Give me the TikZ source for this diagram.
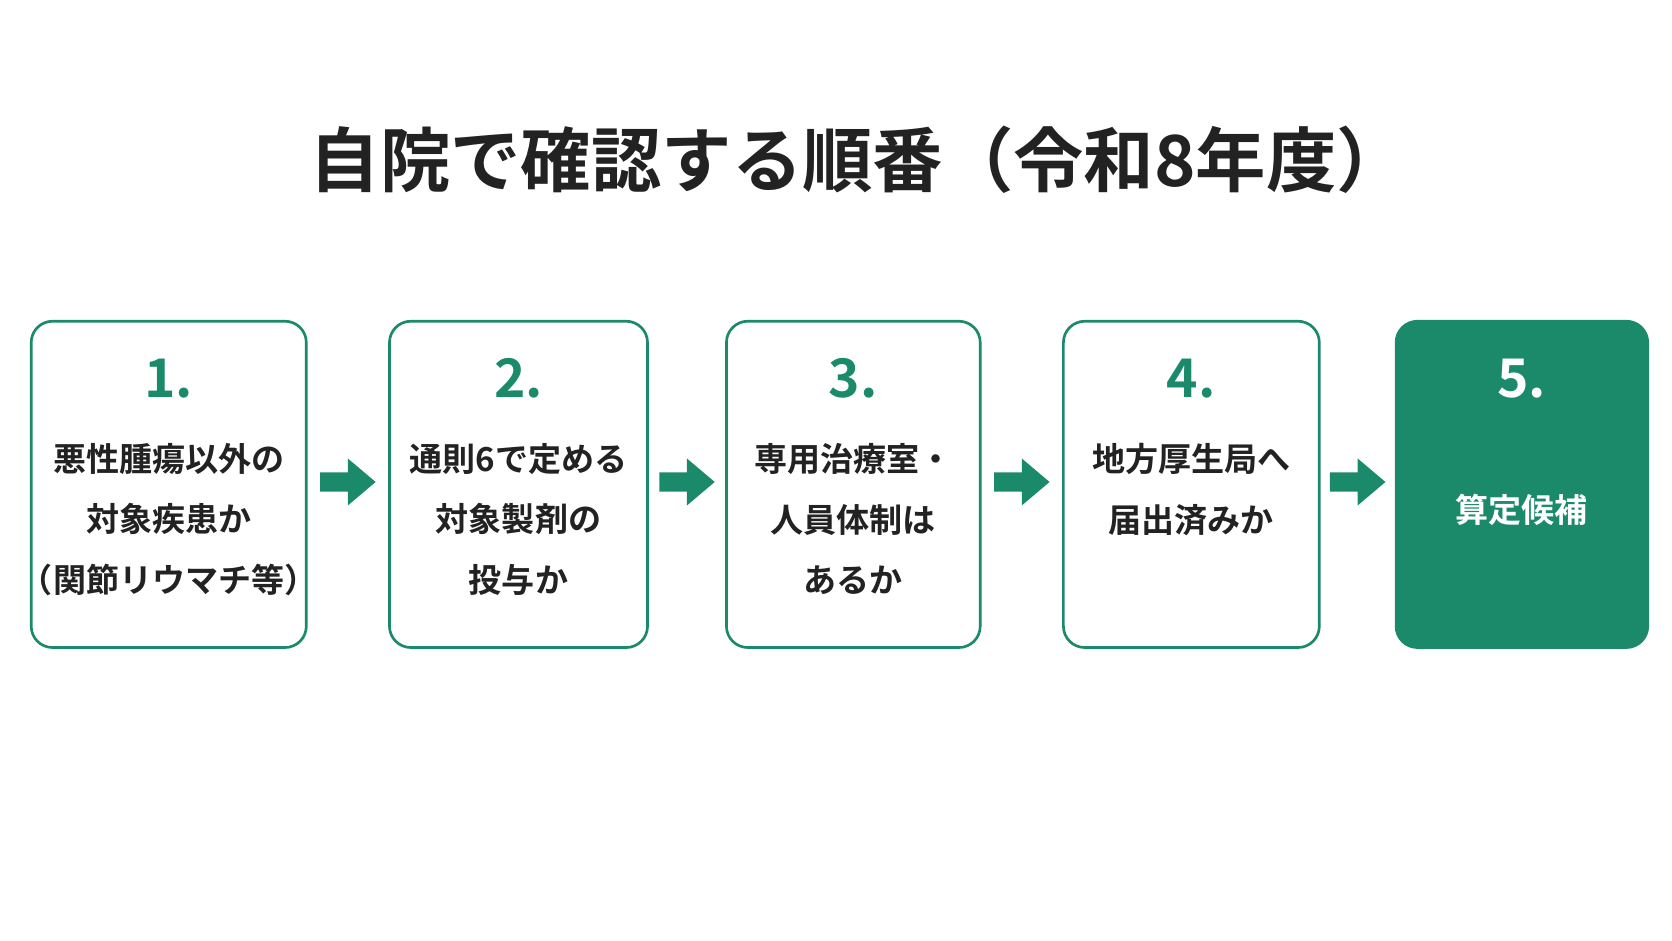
\documentclass[tikz,border=0pt]{standalone}
\usepackage{fontspec}
\newfontfamily\jp{Noto Sans CJK JP}[BoldFont={* Bold}]
\definecolor{gr}{HTML}{1B8A6B}
\definecolor{tx}{HTML}{222222}
\begin{document}
\begin{tikzpicture}[x=1pt,y=-1pt,
 box/.style={draw=gr,line width=2.5pt,rounded corners=20pt,minimum width=#1,minimum height=306pt,anchor=north west},
 num/.style={font=\jp\bfseries\fontsize{50}{50}\selectfont,text=gr},
 lab/.style={font=\jp\bfseries\fontsize{31}{57}\selectfont,text=tx,align=center},
 arr/.style={fill=gr,draw=none}]
\useasboundingbox[fill=white] (0,0) rectangle (1568,882);
\node[font=\jp\bfseries\fontsize{66}{66}\selectfont,text=tx] (title) at (805,150) {自院で確認する順番（令和8年度）};
\node[box=258pt] (b1) at (28,300) {};
\node[box=242pt] (b2) at (364,300) {};
\node[box=238pt] (b3) at (680,300) {};
\node[box=240pt] (b4) at (996,300) {};
\node[box=236pt,fill=gr,draw=gr] (b5) at (1308,300) {};
\node[num] (n1) at (b1.center|-0,355) {1.};
\node[num] (n2) at (b2.center|-0,355) {2.};
\node[num] (n3) at (b3.center|-0,355) {3.};
\node[num] (n4) at (b4.center|-0,355) {4.};
\node[num,text=white] (n5) at (b5.center|-0,355) {5.};
\node[lab,anchor=north] (t1) at (b1.center|-0,412) {悪性腫瘍以外の\\対象疾患か\\（関節リウマチ等）};
\node[lab,anchor=north] (t2) at (b2.center|-0,412) {通則6で定める\\対象製剤の\\投与か};
\node[lab,anchor=north] (t3) at (b3.center|-0,412) {専用治療室・\\人員体制は\\あるか};
\node[lab,anchor=north] (t4) at (b4.center|-0,412) {地方厚生局へ\\届出済みか};
\node[lab,text=white] (t5) at (b5.center|-0,478) {算定候補};
\foreach \a/\b in {b1/b2,b2/b3,b3/b4,b4/b5}{
 \path (\a.east) -- (\b.west) coordinate[pos=0.5] (m);
 \fill[gr] ([shift={(-26,-9)}]m|-0,452) -- ([shift={(0,-9)}]m|-0,452) -- ([shift={(0,-22)}]m|-0,452) -- ([shift={(26,0)}]m|-0,452) -- ([shift={(0,22)}]m|-0,452) -- ([shift={(0,9)}]m|-0,452) -- ([shift={(-26,9)}]m|-0,452) -- cycle;
}
\end{tikzpicture}
\end{document}
